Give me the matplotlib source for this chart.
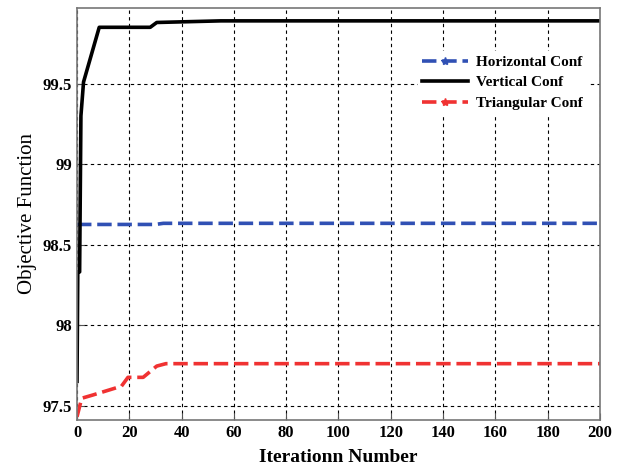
import matplotlib
matplotlib.use("Agg")
import matplotlib.pyplot as plt
from matplotlib.lines import Line2D

# Data
vert_x = [0, 0.3, 1, 1.5, 2.5, 8.5, 28, 30.5, 55, 200]
vert_y = [97.65, 98.33, 98.33, 99.3, 99.51, 99.85, 99.85, 99.88, 99.89, 99.89]

horiz_x = [0, 30, 33, 200]
horiz_y = [98.625, 98.625, 98.632, 98.632]

tri_x = [0, 1.8, 6, 17, 19.5, 25.3, 30.5, 34, 200]
tri_y = [97.43, 97.545, 97.565, 97.62, 97.675, 97.675, 97.745, 97.76, 97.76]

labels = ["Horizontal Conf", "Vertical Conf", "Triangular Conf"]
xticks = [0, 20, 40, 60, 80, 100, 120, 140, 160, 180, 200]
yticks = [97.5, 98, 98.5, 99, 99.5]

blue = "#3050b4"
red = "#f03232"

plt.rcParams['font.family'] = ['Liberation Serif', 'DejaVu Serif']

fig = plt.figure(figsize=(6.24, 4.70), dpi=100)
ax = fig.add_axes([0.1234, 0.1064, 0.8381, 0.8766])

dash = (0, (4, 1.6))
ax.plot(horiz_x, horiz_y, color=blue, lw=2.6, linestyle=dash)
ax.plot(vert_x, vert_y, color="black", lw=2.6)
ax.plot(tri_x, tri_y, color=red, lw=2.6, linestyle=dash)

ax.set_xlim(0, 200)
ax.set_ylim(97.41, 99.97)
ax.set_xticks(xticks)
ax.set_yticks(yticks)
ax.set_xticklabels([str(t) for t in xticks], fontweight="bold", fontsize=12)
ax.set_yticklabels([f"{t:g}" for t in yticks], fontweight="bold", fontsize=12)
ax.tick_params(direction="in", length=5, color="#555555")
ax.grid(True, color="black", linestyle=(0, (3, 3)), linewidth=0.8)
for s in ax.spines.values():
    s.set_color("#777777")
    s.set_linewidth(1.2)

ax.set_xlabel("Iterationn Number", fontweight="bold", fontsize=14, labelpad=6)
ax.set_ylabel("Objective Function", fontsize=15, labelpad=4)

# Legend
handles = [
    Line2D([], [], color=blue, lw=2.6, linestyle=dash, marker="*", markersize=6),
    Line2D([], [], color="black", lw=2.6),
    Line2D([], [], color=red, lw=2.6, linestyle=dash, marker="*", markersize=6),
]
leg = ax.legend(handles, labels, loc="upper right", bbox_to_anchor=(0.99, 0.915),
                frameon=True, facecolor="white", edgecolor="white", framealpha=1,
                prop={"weight": "bold", "size": 11}, handlelength=3.0,
                handletextpad=0.5, labelspacing=0.45, borderpad=0.3)

fig.savefig("out.png", dpi=100)
